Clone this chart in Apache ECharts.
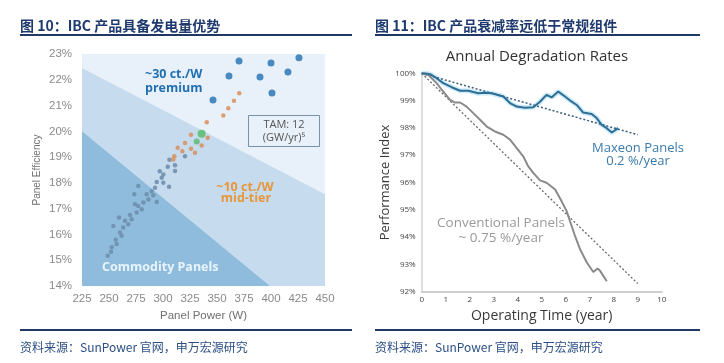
<!DOCTYPE html>
<html><head><meta charset="utf-8">
<script src="https://cdn.jsdelivr.net/npm/echarts@6/dist/echarts.min.js"></script>
<style>html,body{margin:0;padding:0;background:#fff}#c{width:724px;height:363px}</style>
</head><body><div id="c"></div>
<script>
// ---- Left chart data (Panel Power W, Panel Efficiency %) ----
const premiumPoints = [[346.3,21.22],[361.1,22.15],[370.4,22.73],[389.8,22.11],[400,22.65],[400.9,21.49],[415.7,22.3],[425.9,22.85]];
const midTierPoints = [[370.6,21.48],[365.7,21.19],[360.5,20.9],[355.8,20.61],[340.5,20.35],[325.9,19.87],[341.4,19.75],[320.4,19.55],[335.8,19.45],[313.6,19.36],[325.9,19.32],[329.6,19.17],[310.5,19.03],[317.9,19.23],[309.5,18.91]];
const greenBig = [[335.8,19.91]];
const greenSmall = [[331.2,19.61]];
const commodityPoints = [[320.4,19.03],[311.1,18.68],[311.1,18.46],[304.4,18.63],[300.3,18.33],[298.8,18.2],[294.2,18.03],[300.3,18.01],[305.6,17.85],[277.1,17.88],[292.6,17.81],[289.5,17.68],[284.9,17.56],[273.4,17.56],[291,17.52],[294.2,17.26],[286.4,17.36],[281.8,17.24],[277.1,17.1],[274.1,17.17],[280.3,16.98],[275.6,16.85],[269.4,16.75],[259.3,16.66],[271,16.59],[264.8,16.53],[267.9,16.4],[254,16.33],[263.2,16.27],[260.2,16.08],[261.8,15.95],[256.2,15.79],[257.1,15.63],[252.5,15.5],[251.9,15.33],[248.8,15.17],[306,18.9],[297,18.45]];
const premiumBoundary = [[225,22.46],[450,17.56]];
const commodityBoundary = [[225,20.0],[399,14]];
const powerRange = [225,450];
const effRange = [14,23];

// ---- Right chart data (Operating year, Performance index %) ----
const maxeonCurve = [[0,100],[0.15,100],[0.35,99.97],[0.62,99.82],[0.9,99.64],[1.25,99.49],[1.6,99.36],[1.94,99.36],[2.36,99.27],[2.64,99.29],[2.92,99.27],[3.4,99.15],[3.68,98.91],[3.96,98.78],[4.3,98.74],[4.65,98.76],[4.93,98.96],[5.2,99.21],[5.42,99.12],[5.69,99.33],[5.97,99.15],[6.25,98.96],[6.46,98.84],[6.73,98.56],[7.08,98.51],[7.29,98.36],[7.5,98.11],[7.71,97.99],[7.92,97.83],[8.19,97.99]];
const conventionalCurve = [[0,100],[0.28,99.94],[0.62,99.64],[0.9,99.33],[1.18,99.03],[1.39,98.93],[1.6,98.93],[1.87,98.78],[2.15,98.54],[2.43,98.3],[2.71,98.05],[3.05,97.87],[3.4,97.75],[3.68,97.57],[3.96,97.26],[4.23,96.96],[4.44,96.59],[4.65,96.35],[4.93,96.08],[5.2,95.99],[5.35,95.89],[5.56,95.74],[5.83,95.31],[6.04,94.95],[6.18,94.58],[6.39,94.04],[6.6,93.55],[6.88,93.07],[7.15,92.72],[7.33,92.85],[7.42,92.78],[7.71,92.38]];
const maxeonTrend = [[0,100],[9,97.75]];
const conventionalTrend = [[0,100],[9,92.3]];
const yearRange = [0,10];
const perfRange = [92,100];

const chart = echarts.init(document.getElementById('c'));

function polySeries(points, color, z) {
  return {
    type: 'custom', xAxisIndex: 0, yAxisIndex: 0, silent: true, z: z,
    data: [[powerRange[0], effRange[0]]],
    renderItem: function (params, api) {
      return { type: 'polygon', shape: { points: points.map(p => api.coord(p)) }, style: { fill: color } };
    }
  };
}
const midBand = [premiumBoundary[0], premiumBoundary[1], [powerRange[1], effRange[0]], [powerRange[0], effRange[0]]];
const commodityBand = [commodityBoundary[0], commodityBoundary[1], [powerRange[0], effRange[0]]];

const ticksFont = 'Liberation Sans';
const sans = '"Open Sans"';
const cjk = '"Noto Sans CJK SC"';
const RX = 375;

chart.setOption({
  animation: false,
  grid: [
    { left: 82, top: 54, width: 243, height: 232, show: true, backgroundColor: '#e8f1f9', borderWidth: 0 },
    { left: 421.7, top: 73.3, width: 240, height: 218.4, show: false }
  ],
  xAxis: [
    { gridIndex: 0, type: 'value', min: powerRange[0], max: powerRange[1], interval: 25,
      axisLine: { show: false }, axisTick: { show: false }, splitLine: { show: false },
      axisLabel: { color: '#8a8a8a', fontSize: 11.5, fontFamily: ticksFont, margin: 7 },
      name: 'Panel Power (W)', nameLocation: 'middle', nameGap: 20,
      nameTextStyle: { color: '#707070', fontSize: 11.5, fontFamily: ticksFont } },
    { gridIndex: 1, type: 'value', min: yearRange[0], max: yearRange[1], interval: 1,
      axisLine: { show: true, lineStyle: { color: '#cfcfcf', width: 2 } }, axisTick: { show: false }, splitLine: { show: false },
      axisLabel: { color: '#444', fontSize: 8, fontFamily: sans, margin: 4 },
      name: 'Operating Time (year)', nameLocation: 'middle', nameGap: 14,
      nameTextStyle: { color: '#3a3a3a', fontSize: 14, fontFamily: sans } }
  ],
  yAxis: [
    { gridIndex: 0, type: 'value', min: effRange[0], max: effRange[1], interval: 1,
      axisLine: { show: false }, axisTick: { show: false }, splitLine: { show: false },
      axisLabel: { color: '#8a8a8a', fontSize: 11.5, fontFamily: ticksFont, margin: 10, formatter: '{value}%' },
      name: 'Panel Efficiency', nameLocation: 'middle', nameGap: 40,
      nameTextStyle: { color: '#707070', fontSize: 10, fontFamily: ticksFont } },
    { gridIndex: 1, type: 'value', min: perfRange[0], max: perfRange[1], interval: 1,
      axisLine: { show: true, lineStyle: { color: '#d5d5d5', width: 1.5 } }, axisTick: { show: false }, splitLine: { show: false },
      axisLabel: { color: '#444', fontSize: 8, fontFamily: sans, margin: 6, formatter: '{value}%' },
      name: 'Performance Index', nameLocation: 'middle', nameGap: 28,
      nameTextStyle: { color: '#3a3a3a', fontSize: 13, fontFamily: sans } }
  ],
  series: [
    polySeries(midBand, '#c6dcee', 1),
    polySeries(commodityBand, '#8fbcdc', 2),
    { type: 'scatter', xAxisIndex: 0, yAxisIndex: 0, data: commodityPoints, symbolSize: 4.5, z: 5,
      itemStyle: { color: '#6f8fae', opacity: 0.9 } },
    { type: 'scatter', xAxisIndex: 0, yAxisIndex: 0, data: midTierPoints, symbolSize: 4.5, z: 6,
      itemStyle: { color: '#d98a52' } },
    { type: 'scatter', xAxisIndex: 0, yAxisIndex: 0, data: greenBig, symbolSize: 8, z: 7,
      itemStyle: { color: '#4dbb62' } },
    { type: 'scatter', xAxisIndex: 0, yAxisIndex: 0, data: greenSmall, symbolSize: 6, z: 7,
      itemStyle: { color: '#56b96a' } },
    { type: 'scatter', xAxisIndex: 0, yAxisIndex: 0, data: premiumPoints, symbolSize: 7, z: 7,
      itemStyle: { color: '#1f6fb2' } },
    // right chart
    { type: 'line', xAxisIndex: 1, yAxisIndex: 1, data: maxeonCurve, symbol: 'none', z: 3,
      lineStyle: { color: 'rgba(160,215,240,0.5)', width: 5 } },
    { type: 'line', xAxisIndex: 1, yAxisIndex: 1, data: conventionalTrend, symbol: 'none', z: 4,
      lineStyle: { color: '#6a6a6a', width: 1.3, type: [2, 2] } },
    { type: 'line', xAxisIndex: 1, yAxisIndex: 1, data: maxeonTrend, symbol: 'none', z: 4,
      lineStyle: { color: '#3c5d7c', width: 1.5, type: [2, 2] } },
    { type: 'line', xAxisIndex: 1, yAxisIndex: 1, data: conventionalCurve, symbol: 'none', z: 5,
      lineStyle: { color: '#8a8a8a', width: 2 } },
    { type: 'line', xAxisIndex: 1, yAxisIndex: 1, data: maxeonCurve, symbol: 'none', z: 6,
      lineStyle: { color: '#2c6e96', width: 2 } }
  ],
  graphic: [
    { type: 'text', style: { x: 20, y: 26, text: '图 10：IBC 产品具备发电量优势', font: 'bold 14px ' + cjk, fill: '#1f3a6e', verticalAlign: 'middle' } },
    { type: 'rect', shape: { x: 20, y: 34, width: 332, height: 2 }, style: { fill: '#1f3864' } },
    { type: 'text', style: { x: RX, y: 26, text: '图 11：IBC 产品衰减率远低于常规组件', font: 'bold 14px ' + cjk, fill: '#1f3a6e', verticalAlign: 'middle' } },
    { type: 'rect', shape: { x: RX, y: 34, width: 325, height: 2 }, style: { fill: '#1f3864' } },
    { type: 'rect', shape: { x: 20, y: 329, width: 332, height: 2 }, style: { fill: '#1f3864' } },
    { type: 'rect', shape: { x: RX, y: 329, width: 325, height: 2 }, style: { fill: '#1f3864' } },
    { type: 'text', style: { x: 20, y: 347, text: '资料来源：SunPower 官网，申万宏源研究', font: '12px ' + cjk, fill: '#2b4f84', verticalAlign: 'middle' } },
    { type: 'text', style: { x: RX, y: 347, text: '资料来源：SunPower 官网，申万宏源研究', font: '12px ' + cjk, fill: '#2b4f84', verticalAlign: 'middle' } },
    // left annotations
    { type: 'text', z: 20, style: { x: 145, y: 74, text: '~30 ct./W', font: 'bold 12.5px ' + sans, fill: '#1f6fb2', verticalAlign: 'middle' } },
    { type: 'text', z: 20, style: { x: 145, y: 88, text: 'premium', font: 'bold 12.5px ' + sans, fill: '#1f6fb2', verticalAlign: 'middle' } },
    { type: 'text', z: 20, style: { x: 245, y: 187, text: '~10 ct./W', font: 'bold 12.5px ' + sans, fill: '#e8963a', align: 'center', verticalAlign: 'middle' } },
    { type: 'text', z: 20, style: { x: 246, y: 198, text: 'mid-tier', font: 'bold 12.5px ' + sans, fill: '#e8963a', align: 'center', verticalAlign: 'middle' } },
    { type: 'text', z: 20, style: { x: 102, y: 267, text: 'Commodity Panels', font: 'bold 12.5px ' + sans, fill: '#e8f4fc', verticalAlign: 'middle' } },
    { type: 'rect', z: 20, shape: { x: 248.5, y: 115.5, width: 71, height: 31 }, style: { fill: 'none', stroke: '#7892aa', lineWidth: 1 } },
    { type: 'text', z: 20, style: { x: 284, y: 125, text: 'TAM: 12', font: '11px ' + sans, fill: '#555', align: 'center', verticalAlign: 'middle' } },
    { type: 'text', z: 20, style: { x: 284, y: 138, text: '(GW/yr)⁵', font: '11px ' + sans, fill: '#555', align: 'center', verticalAlign: 'middle' } },
    // right annotations
    { type: 'text', z: 20, style: { x: 537, y: 57, text: 'Annual Degradation Rates', font: '15px ' + sans, fill: '#333', align: 'center', verticalAlign: 'middle' } },
    { type: 'text', z: 20, style: { x: 638, y: 148, text: 'Maxeon Panels', font: '13px ' + sans, fill: '#3b7bab', align: 'center', verticalAlign: 'middle' } },
    { type: 'text', z: 20, style: { x: 638, y: 161, text: '0.2 %/year', font: '13px ' + sans, fill: '#3b7bab', align: 'center', verticalAlign: 'middle' } },
    { type: 'text', z: 20, style: { x: 501, y: 223, text: 'Conventional Panels', font: '13.5px ' + sans, fill: '#9a9a9a', align: 'center', verticalAlign: 'middle' } },
    { type: 'text', z: 20, style: { x: 501, y: 238, text: '~ 0.75 %/year', font: '13.5px ' + sans, fill: '#9a9a9a', align: 'center', verticalAlign: 'middle' } }
  ]
});
</script>
</body></html>
